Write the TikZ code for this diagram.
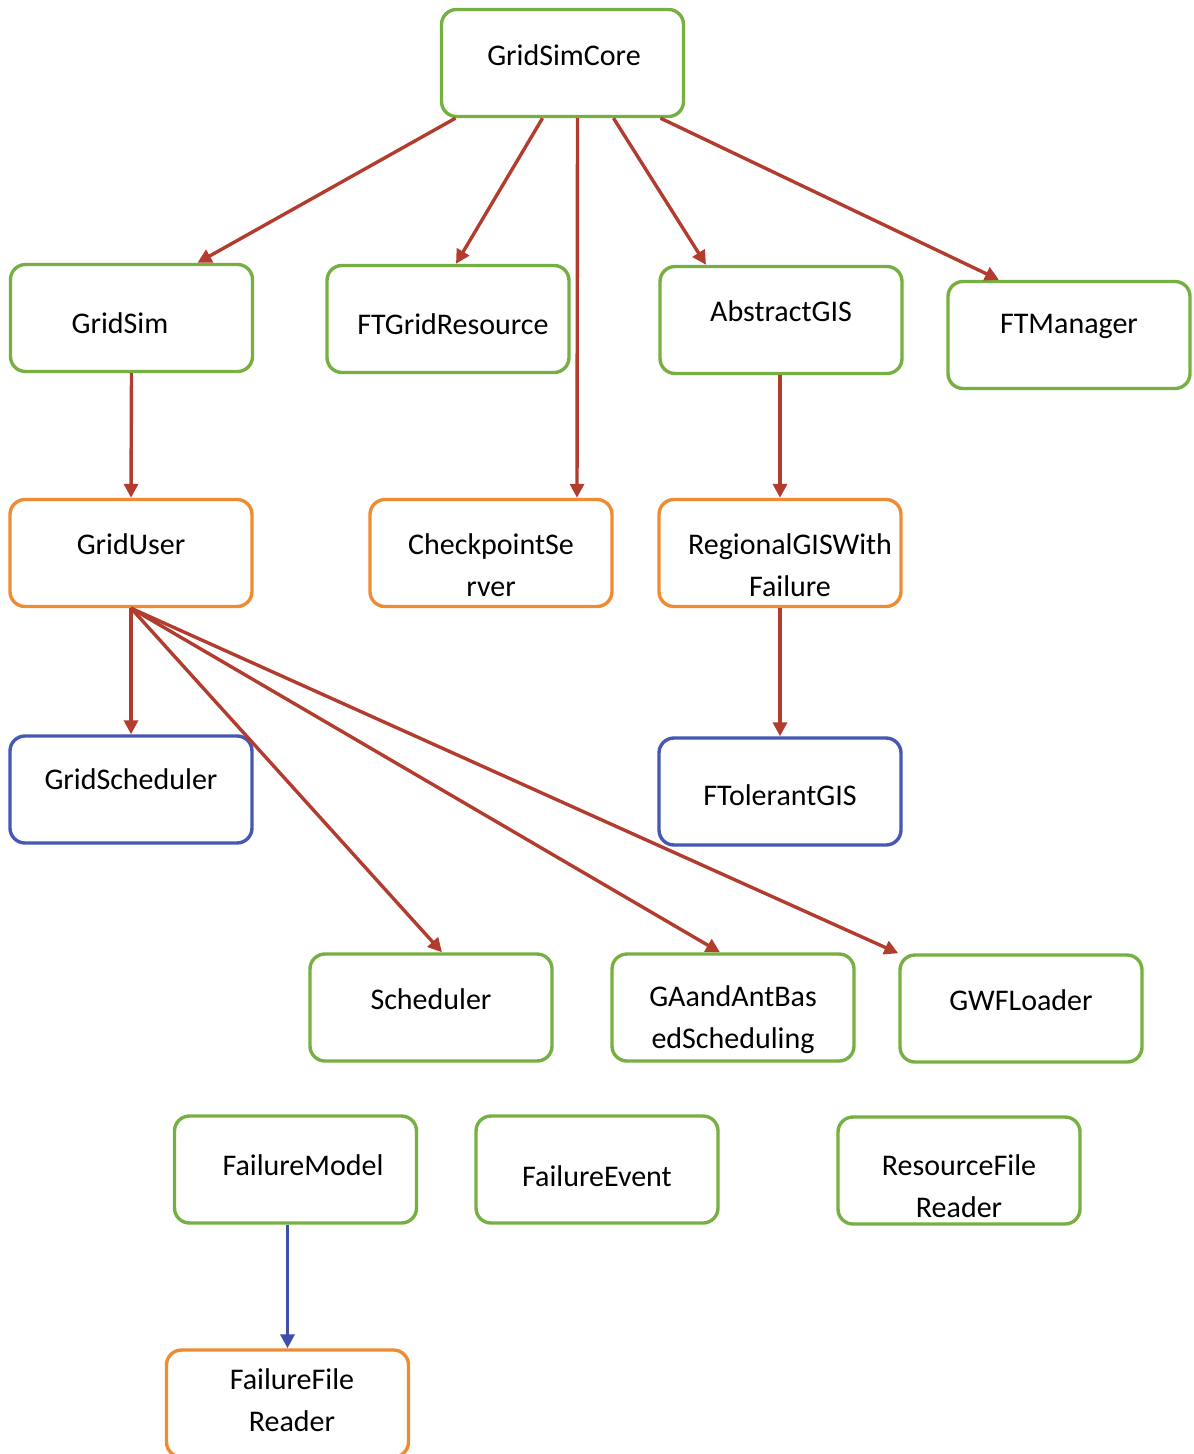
\documentclass[tikz,border=0pt]{standalone}
\usepackage{fontspec}
\setmainfont{Carlito}
\usetikzlibrary{arrows.meta,calc}

\definecolor{boxgreen}{RGB}{118,176,66}
\definecolor{boxorange}{RGB}{238,140,52}
\definecolor{boxblue}{RGB}{68,88,180}
\definecolor{linkred}{RGB}{178,60,46}
\definecolor{linkblue}{RGB}{62,78,170}

\tikzset{
    box/.style={draw, rounded corners=7.5pt, line width=1.7pt,
        minimum width=121pt, minimum height=53.5pt, inner sep=0pt},
    gbox/.style={box, draw=boxgreen},
    obox/.style={box, draw=boxorange},
    bbox/.style={box, draw=boxblue},
    txt/.style={align=center, font=\fontsize{15}{21}\selectfont},
    link/.style={draw=linkred, line width=1.7pt,
        -{Triangle[length=7pt,width=7pt]}},
    bluelink/.style={link, draw=linkblue}
}

\begin{document}
\begin{tikzpicture}[x=0.5pt,y=-0.5pt]
    \useasboundingbox (0,0) rectangle (1193,1454);

    % Boxes
    \node[gbox] (core) at (562.5,63) {};
    \node[gbox] (gridsim) at (131.5,318) {};
    \node[gbox] (ftres) at (448,319) {};
    \node[gbox] (agis) at (781,320) {};
    \node[gbox] (ftman) at (1069,335) {};
    \node[obox] (griduser) at (131,553) {};
    \node[obox] (ckpt) at (491,553) {};
    \node[obox] (regional) at (780,553) {};
    \node[bbox] (gsched) at (131,789.5) {};
    \node[bbox] (ftol) at (780,791.5) {};
    \node[gbox] (sched) at (431,1007.5) {};
    \node[gbox] (ga) at (733,1007.5) {};
    \node[gbox] (gwf) at (1021,1008.5) {};
    \node[gbox] (fmodel) at (295.5,1169.5) {};
    \node[gbox] (fevent) at (597,1169.5) {};
    \node[gbox] (rfreader) at (959,1170.5) {};
    \node[obox] (ffreader) at (287.5,1403.5) {};

    % Labels
    \node[txt] (core-t) at (564,55) {GridSimCore};
    \node[txt] (gridsim-t) at (120,323) {GridSim};
    \node[txt] (ftres-t) at (453,324) {FTGridResource};
    \node[txt] (agis-t) at (781,311) {AbstractGIS};
    \node[txt] (ftman-t) at (1069,326) {FTManager};
    \node[txt] (griduser-t) at (131,544) {GridUser};
    \node[txt] (ckpt-t) at (491,565) {CheckpointSe\\rver};
    \node[txt] (regional-t) at (790,565) {RegionalGISWith\\Failure};
    \node[txt] (gsched-t) at (131,779) {GridScheduler};
    \node[txt] (ftol-t) at (780,795) {FTolerantGIS};
    \node[txt] (sched-t) at (431,999) {Scheduler};
    \node[txt] (ga-t) at (733,1020) {GAandAntBas\\edScheduling};
    \node[txt] (gwf-t) at (1021,1000) {GWFLoader};
    \node[txt] (fmodel-t) at (303,1165) {FailureModel};
    \node[txt] (fevent-t) at (597,1176) {FailureEvent};
    \node[txt] (rfreader-t) at (959,1186) {ResourceFile\\Reader};
    \node[txt] (ffreader-t) at (292,1400) {FailureFile\\Reader};

    % Links from the core
    \draw[link] ($(core.south)+(-107,0)$) -- ($(gridsim.north)+(66,0)$);
    \draw[link] ($(core.south)+(-20,0)$) -- ($(ftres.north)+(8,0)$);
    \draw[link] ($(core.south)+(15,0)$) -- ($(ckpt.north)+(86,0)$);
    \draw[link] ($(core.south)+(51,0)$) -- ($(agis.north)+(-75,0)$);
    \draw[link] ($(core.south)+(98,0)$) -- ($(ftman.north)+(-70,0)$);

    % Chains down
    \draw[link] (gridsim.south) -- (griduser.north);
    \draw[link] ($(agis.south)+(-1,0)$) -- (regional.north);
    \draw[link] (regional.south) -- (ftol.north);

    % Links from the user
    \draw[link] (griduser.south) -- (gsched.north);
    \draw[link] (griduser.south) -- ($(sched.north)+(11,0)$);
    \draw[link] (griduser.south) -- ($(ga.north)+(-13,0)$);
    \draw[link] (griduser.south) -- (gwf.north west);

    % Failure model
    \draw[bluelink] ($(fmodel.south)+(-8,0)$) -- (ffreader.north);
\end{tikzpicture}
\end{document}
